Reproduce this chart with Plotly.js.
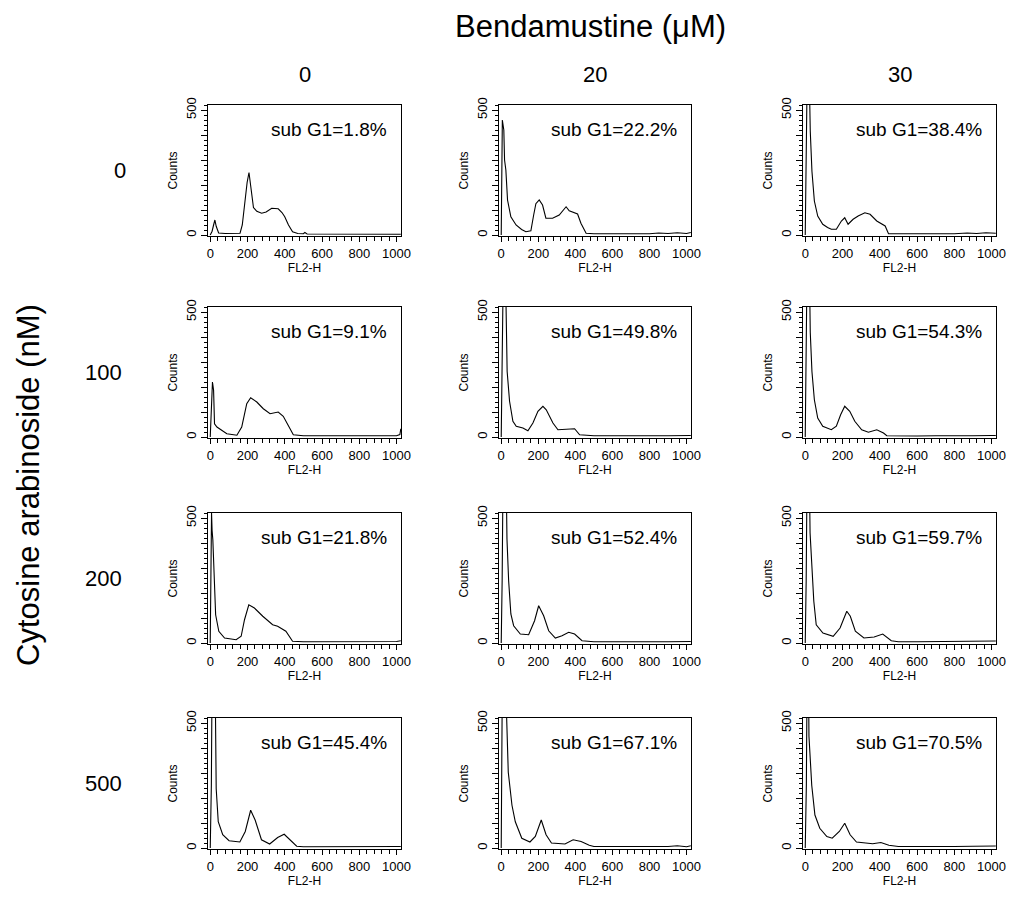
<!DOCTYPE html>
<html><head><meta charset="utf-8">
<script src="https://cdn.plot.ly/plotly-3.0.1.min.js"></script>
<style>html,body{margin:0;padding:0;background:#fff}</style>
</head><body><div id="chart" style="width:1009px;height:897px"></div>
<script>
// ---- labels ----
const bendamustine = ['0', '20', '30'];          // columns (µM)
const cytarabine = ['0', '100', '200', '500'];   // rows (nM)
const subG1 = ['1.8', '22.2', '38.4', '9.1', '49.8', '54.3', '21.8', '52.4', '59.7', '45.4', '67.1', '70.5'];
const yHiddenLabels = ['100', '200', '300', '400'];

// ---- histogram data (FL2-H channel, counts) ----
const h00x = [0, 10, 18, 25, 32, 45, 80, 120, 160, 172, 185, 198, 208, 218, 232, 250, 276, 300, 330, 365, 385, 400, 420, 442, 470, 500, 508, 520, 600, 700, 800, 900, 1000, 1023];
const h00y = [0, 15, 40, 60, 35, 8, 6, 6, 7, 40, 130, 210, 250, 200, 110, 95, 87, 92, 107, 105, 90, 73, 40, 13, 6, 5, 10, 4, 4, 3, 4, 3, 4, 3];
const h01x = [0, 3, 6, 10, 14, 18, 25, 34, 52, 80, 110, 133, 160, 175, 187, 205, 223, 241, 277, 313, 350, 367, 390, 412, 430, 458, 500, 600, 700, 800, 850, 900, 950, 1000, 1023];
const h01y = [0, 200, 460, 440, 420, 300, 260, 140, 73, 40, 22, 13, 17, 80, 125, 140, 120, 67, 67, 80, 113, 97, 90, 84, 47, 7, 5, 5, 4, 5, 8, 6, 9, 6, 10];
const h02x = [0, 4, 9, 13, 20, 27, 36, 49, 67, 94, 120, 140, 167, 194, 212, 230, 257, 284, 320, 348, 384, 429, 447, 500, 600, 700, 800, 870, 920, 970, 1023];
const h02y = [0, 255, 600, 800, 700, 415, 255, 136, 76, 43, 30, 23, 23, 56, 69, 43, 63, 76, 89, 83, 56, 36, 5, 5, 4, 4, 5, 8, 6, 9, 7];
const h10x = [0, 4, 8, 12, 18, 23, 36, 62, 89, 143, 169, 196, 217, 250, 285, 321, 365, 392, 419, 446, 500, 600, 700, 800, 900, 1000, 1018, 1023];
const h10y = [0, 107, 180, 220, 187, 53, 40, 27, 13, 7, 40, 133, 157, 140, 113, 93, 100, 83, 47, 9, 5, 5, 5, 5, 4, 5, 10, 33];
const h11x = [0, 4, 9, 15, 22, 27, 32, 45, 63, 81, 117, 144, 171, 198, 225, 243, 279, 306, 350, 396, 423, 500, 600, 700, 800, 900, 1000, 1023];
const h11y = [0, 262, 700, 900, 700, 423, 262, 143, 63, 43, 36, 25, 56, 103, 123, 109, 56, 29, 30, 33, 9, 5, 5, 6, 5, 5, 4, 6];
const h12x = [0, 4, 10, 18, 24, 27, 36, 49, 67, 94, 140, 167, 190, 212, 239, 266, 303, 339, 384, 420, 438, 500, 600, 700, 800, 900, 1000, 1023];
const h12y = [0, 255, 700, 900, 600, 418, 262, 149, 76, 43, 29, 43, 89, 123, 103, 63, 29, 19, 29, 16, 5, 4, 4, 5, 4, 5, 6, 6];
const h20x = [0, 4, 7, 10, 14, 20, 29, 46, 77, 139, 166, 184, 207, 237, 282, 335, 362, 406, 442, 500, 600, 700, 800, 900, 950, 1000, 1023];
const h20y = [0, 300, 520, 450, 413, 253, 113, 47, 20, 13, 27, 93, 153, 140, 107, 73, 67, 47, 7, 5, 5, 5, 5, 6, 8, 6, 9];
const h21x = [0, 5, 10, 18, 26, 31, 40, 52, 67, 103, 148, 180, 202, 229, 256, 292, 328, 364, 396, 436, 500, 600, 700, 800, 900, 1000, 1023];
const h21y = [0, 249, 700, 900, 700, 416, 249, 116, 69, 36, 33, 89, 149, 109, 49, 20, 29, 43, 36, 9, 5, 5, 6, 5, 5, 4, 6];
const h22x = [0, 5, 10, 18, 26, 35, 46, 59, 95, 150, 187, 223, 242, 269, 315, 370, 416, 462, 500, 600, 700, 800, 900, 950, 1000, 1023];
const h22y = [0, 247, 700, 900, 440, 300, 167, 73, 40, 27, 60, 127, 107, 47, 20, 24, 36, 9, 5, 5, 5, 6, 5, 7, 8, 8];
const h30x = [0, 6, 10, 14, 20, 26, 32, 43, 67, 101, 159, 188, 217, 241, 275, 319, 362, 397, 435, 464, 500, 600, 700, 800, 900, 1000, 1023];
const h30y = [0, 250, 700, 900, 900, 700, 237, 105, 53, 29, 24, 66, 151, 112, 33, 16, 42, 55, 26, 7, 5, 5, 5, 5, 5, 5, 6];
const h31x = [0, 4, 8, 14, 23, 30, 38, 58, 76, 111, 155, 184, 216, 242, 271, 344, 388, 431, 475, 500, 600, 700, 800, 900, 950, 1000, 1023];
const h31y = [0, 400, 900, 900, 700, 470, 303, 171, 105, 39, 24, 46, 112, 53, 20, 16, 33, 26, 11, 6, 6, 6, 5, 6, 9, 5, 9];
const h32x = [0, 6, 10, 15, 20, 28, 35, 52, 78, 116, 145, 183, 212, 241, 275, 362, 406, 449, 500, 600, 700, 800, 900, 1000, 1023];
const h32y = [0, 250, 700, 900, 447, 350, 250, 132, 79, 46, 39, 66, 99, 53, 24, 17, 22, 11, 6, 6, 5, 6, 7, 7, 8];

const histX = [h00x, h01x, h02x, h10x, h11x, h12x, h20x, h21x, h22x, h30x, h31x, h32x];
const histY = [h00y, h01y, h02y, h10y, h11y, h12y, h20y, h21y, h22y, h30y, h31y, h32y];

// ---- layout geometry (px) ----
const W = 1009, H = 897;
const colPx = [[208, 401], [499, 691], [803, 996]];
const rowPx = [[105, 236], [307, 438], [513, 644], [718, 849]];
const FONT = 'Liberation Sans, Arial, sans-serif';
const NARROW = 'Liberation Sans Narrow, Arial Narrow, Liberation Sans, sans-serif';

const yAlias = {};
yHiddenLabels.forEach(v => { yAlias[v] = ''; });

const data = [];
const layout = {
  width: W, height: H,
  margin: {l: 0, r: 0, t: 0, b: 0},
  paper_bgcolor: '#fff', plot_bgcolor: '#fff',
  showlegend: false,
  font: {family: FONT, color: '#000'},
  annotations: []
};

for (let r = 0; r < 4; r++) {
  for (let c = 0; c < 3; c++) {
    const k = r * 3 + c;
    const n = k + 1;
    const xa = 'x' + (n === 1 ? '' : n), ya = 'y' + (n === 1 ? '' : n);
    data.push({
      x: histX[k], y: histY[k], xaxis: xa, yaxis: ya,
      type: 'scatter', mode: 'lines',
      line: {color: '#000', width: 1.1},
      hoverinfo: 'skip'
    });
    const xk = 'xaxis' + (n === 1 ? '' : n), yk = 'yaxis' + (n === 1 ? '' : n);
    layout[xk] = {
      domain: [colPx[c][0] / W, colPx[c][1] / W],
      anchor: ya, range: [-12, 1024],
      tickmode: 'linear', tick0: 0, dtick: 200,
      ticks: 'outside', ticklen: 5, tickwidth: 1, tickcolor: '#000',
      minor: {tickmode: 'linear', tick0: 0, dtick: 40, ticks: 'outside', ticklen: 4, tickwidth: 1, tickcolor: '#000'},
      showgrid: false, zeroline: false,
      showline: true, linecolor: '#000', linewidth: 1, mirror: true,
      tickfont: {size: 13, family: NARROW},
      title: {text: 'FL2-H', font: {size: 12, family: NARROW}, standoff: 2},
      fixedrange: true
    };
    layout[yk] = {
      domain: [1 - rowPx[r][1] / H, 1 - rowPx[r][0] / H],
      anchor: xa, range: [-4, 520],
      tickmode: 'linear', tick0: 0, dtick: 100, labelalias: yAlias, tickangle: -90,
      ticks: 'outside', ticklen: 6, tickwidth: 1, tickcolor: '#000',
      minor: {tickmode: 'linear', tick0: 0, dtick: 20, ticks: 'outside', ticklen: 3, tickwidth: 1, tickcolor: '#000'},
      showgrid: false, zeroline: false,
      showline: true, linecolor: '#000', linewidth: 1, mirror: true,
      tickfont: {size: 13, family: NARROW},
      title: {text: 'Counts', font: {size: 12, family: NARROW}, standoff: 3},
      fixedrange: true
    };
    layout.annotations.push({
      xref: xa + ' domain', yref: ya + ' domain',
      x: 0.94, y: 0.815, xanchor: 'right', yanchor: 'middle',
      text: 'sub G1=' + subG1[k] + '%', showarrow: false,
      font: {size: 19, family: FONT}
    });
  }
}

// column headers
bendamustine.forEach((lab, c) => {
  layout.annotations.push({
    xref: 'paper', yref: 'paper',
    x: (colPx[c][0] + colPx[c][1]) / 2 / W, y: 1 - 75 / H,
    xanchor: 'center', yanchor: 'middle', showarrow: false,
    text: lab, font: {size: 22, family: FONT}
  });
});
// row headers
cytarabine.forEach((lab, r) => {
  layout.annotations.push({
    xref: 'paper', yref: 'paper',
    x: (lab.length === 1 ? 120 : 103) / W, y: 1 - (rowPx[r][0] + rowPx[r][1]) / 2 / H,
    xanchor: 'center', yanchor: 'middle', showarrow: false,
    text: lab, font: {size: 22, family: FONT}
  });
});
// overall titles
layout.annotations.push({
  xref: 'paper', yref: 'paper', x: 590 / W, y: 1 - 27 / H,
  xanchor: 'center', yanchor: 'middle', showarrow: false,
  text: 'Bendamustine (\u03BCM)', font: {size: 31, family: FONT}
});
layout.annotations.push({
  xref: 'paper', yref: 'paper', x: 28 / W, y: 1 - 485 / H,
  xanchor: 'center', yanchor: 'middle', showarrow: false, textangle: -90,
  text: 'Cytosine arabinoside (nM)', font: {size: 31, family: FONT}
});

Plotly.newPlot('chart', data, layout, {displayModeBar: false, staticPlot: true});
</script>
</body></html>
